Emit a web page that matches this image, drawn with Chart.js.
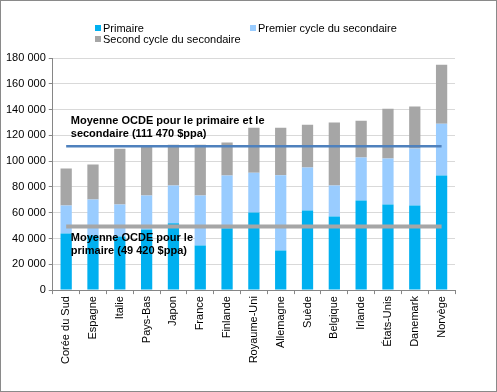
<!DOCTYPE html>
<html>
<head>
<meta charset="utf-8">
<script src="https://cdn.jsdelivr.net/npm/chart.js@4/dist/chart.umd.min.js"></script>
<style>
  body { margin: 0; background: #fff; }
  .wrap { position: relative; width: 497px; height: 392px; font-family: 'Liberation Sans', Arial, sans-serif; }
  .frame { position: absolute; left: 0; top: 0; width: 497px; height: 392px; box-sizing: border-box; border: 1px solid #8a8a8a; pointer-events: none; }
  .legend-item { position: absolute; font-size: 11px; color: #000; white-space: nowrap; line-height: 12px; }
  .legend-item span { display: inline-block; width: 6px; height: 6px; margin-right: 2px; vertical-align: 1px; }
</style>
</head>
<body>
<div class="wrap">
  <canvas id="chart" width="497" height="392"></canvas>
  <div id="legend"></div>
  <div class="frame"></div>
</div>
<script>
// pays
const countries = ['Corée du Sud', 'Espagne', 'Italie', 'Pays-Bas', 'Japon', 'France', 'Finlande',
  'Royaume-Uni', 'Allemagne', 'Suède', 'Belgique', 'Irlande', 'États-Unis', 'Danemark', 'Norvège'];

// salaires cumulés par niveau ($ppa)
const primaire = [44000, 42400, 41600, 47000, 51900, 34600, 48000, 60200, 30700, 61700, 57100, 69500, 66400, 65600, 88800];
const premierCycle = [21600, 27900, 24800, 26400, 29200, 38800, 40800, 30900, 58300, 33300, 24000, 33300, 35700, 44200, 40300];
const secondCycle = [28700, 27100, 43300, 37800, 31700, 39400, 25600, 34900, 37000, 33300, 48800, 28600, 38600, 32500, 45700];

// moyennes OCDE
const moyenneTotal = 111470;
const moyennePrimaire = 49420;

const yTicks = [0, 20000, 40000, 60000, 80000, 100000, 120000, 140000, 160000, 180000];

const fmt = (v) => String(v).replace(/\B(?=(\d{3})+(?!\d))/g, ' ');

Chart.defaults.font.family = "'Liberation Sans', Arial, sans-serif";
Chart.defaults.font.size = 11;
Chart.defaults.color = '#000';

const barSets = [
  { label: 'Primaire', data: primaire, backgroundColor: '#00B0F0' },
  { label: 'Premier cycle du secondaire', data: premierCycle, backgroundColor: '#99CCFF' },
  { label: 'Second cycle du secondaire', data: secondCycle, backgroundColor: '#A6A6A6' },
];

// legende html (2 colonnes comme l'original)
const legendPos = [[95, 22], [250, 22], [95, 33]];
document.getElementById('legend').innerHTML = barSets.map((d, i) =>
  `<div class="legend-item" style="left:${legendPos[i][0]}px;top:${legendPos[i][1]}px"><span style="background:${d.backgroundColor}"></span>${d.label}</div>`
).join('');

const avgLabels = {
  id: 'avgLabels',
  afterDatasetsDraw(chart) {
    const { ctx, scales: { y }, chartArea } = chart;
    const x0 = chartArea.left + 18;
    ctx.save();
    ctx.font = "bold 11px 'Liberation Sans', Arial, sans-serif";
    ctx.fillStyle = '#000';
    ctx.textBaseline = 'middle';
    const yt = y.getPixelForValue(moyenneTotal);
    ctx.fillText('Moyenne OCDE pour le primaire et le', x0, yt - 25);
    ctx.fillText('secondaire (111 470 $ppa)', x0, yt - 12);
    const yp = y.getPixelForValue(moyennePrimaire);
    ctx.fillText('Moyenne OCDE pour le', x0, yp + 12);
    ctx.fillText('primaire (49 420 $ppa)', x0, yp + 25);
    ctx.restore();
  }
};

new Chart(document.getElementById('chart'), {
  type: 'bar',
  data: {
    labels: countries,
    datasets: [
      ...barSets.map((d) => ({ ...d, stack: 'bars', order: 1, barPercentage: 0.42, categoryPercentage: 1 })),
      {
        type: 'line',
        label: 'Moyenne OCDE primaire et secondaire',
        data: countries.map(() => moyenneTotal),
        borderColor: '#4F81BD',
        borderWidth: 2.5,
        pointRadius: 0,
        stack: 'avg1',
        order: 0,
      },
      {
        type: 'line',
        label: 'Moyenne OCDE primaire',
        data: countries.map(() => moyennePrimaire),
        borderColor: '#A6A6A6',
        borderWidth: 4,
        pointRadius: 0,
        stack: 'avg2',
        order: 0,
      },
    ],
  },
  options: {
    responsive: false,
    animation: false,
    layout: { padding: { top: 58, left: 3, right: 42, bottom: 26 } },
    plugins: {
      legend: { display: false },
      tooltip: { enabled: false },
    },
    scales: {
      x: {
        stacked: true,
        grid: { drawOnChartArea: false, tickLength: 4, tickColor: '#868686', offset: true },
        border: { color: '#868686' },
        ticks: { minRotation: 90, maxRotation: 90, padding: 2, autoSkip: false },
      },
      y: {
        stacked: true,
        min: 0,
        max: 180000,
        afterBuildTicks: (axis) => { axis.ticks = yTicks.map((v) => ({ value: v })); },
        grid: { color: '#D9D9D9', tickLength: 4, tickColor: '#868686' },
        border: { color: '#868686' },
        ticks: { callback: (v) => fmt(v), padding: 3 },
      },
    },
  },
  plugins: [avgLabels],
});
</script>
</body>
</html>
